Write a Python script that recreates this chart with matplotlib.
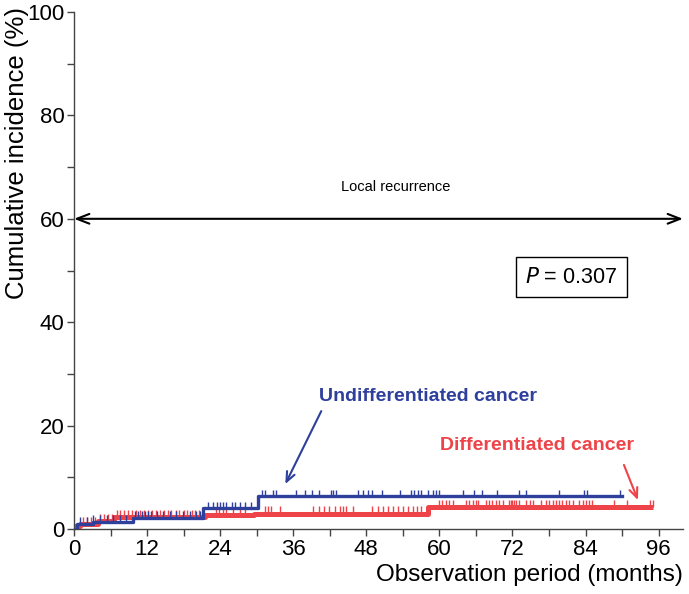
import matplotlib
matplotlib.use("Agg")
import matplotlib.pyplot as plt
from matplotlib.ticker import MultipleLocator

plt.rcParams["font.family"] = ["Liberation Sans", "DejaVu Sans"]

BLUE = "#2e3f9c"
RED = "#ee4449"

# step curves: time where the step starts (months) and level (%)
blue_times = [0, 0.5, 3.2, 9.7, 21.2, 30.2]
blue_levels = [0, 1.0, 1.4, 2.1, 4.0, 6.3]
blue_end = 90.0

red_times = [0, 1.0, 4.0, 6.5, 21.5, 29.5, 58.2]
red_levels = [0.5, 1.0, 1.5, 2.3, 2.8, 3.0, 4.2]
red_end = 95.0

# censored observations (months)
blue_censor = [1.0, 2.1, 3.2, 4.3, 5.4, 6.4, 7.5, 8.6,
               10.0, 10.5, 11.1, 11.6, 12.2, 12.7, 13.6, 14.6, 15.7, 16.8, 17.9, 19.0, 20.1, 20.7,
               22.0, 22.8, 23.4, 23.9, 24.5, 25.0, 25.9, 26.4, 27.2, 28.0, 29.1,
               30.8, 31.3, 32.7, 33.2, 36.5, 37.9, 39.0, 40.3, 42.2, 42.5, 43.0,
               46.6, 47.4, 48.2, 49.0, 50.5, 53.5, 55.4, 55.9, 56.5, 57.0, 58.2,
               58.9, 59.4, 59.9, 63.8, 65.7, 67.0, 69.5, 73.1, 74.2, 79.6, 83.7, 84.3, 89.7]
red_censor = [1.5, 2.2, 2.8, 3.5, 4.3, 5.0, 5.6, 6.3, 7.0, 7.6, 8.2, 8.9, 9.5, 10.2, 10.8,
              11.5, 12.1, 12.8, 13.4, 14.1, 14.7, 15.4, 16.0, 16.7, 17.3, 18.0, 18.6, 19.3,
              19.9, 20.6, 23.3, 23.8, 24.4, 24.9, 26.1, 27.2, 28.0, 31.3, 31.8, 32.4, 33.8,
              39.2, 40.3, 41.1, 41.9, 42.8, 43.6, 44.1, 44.7, 45.8, 49.0, 49.9, 50.7, 51.5,
              52.3, 53.2, 54.0, 54.8, 55.6, 56.4, 57.0,
              60.0, 60.5, 61.1, 61.6, 62.2, 64.4, 64.9, 65.5, 66.0, 66.3, 67.7, 68.2, 68.7,
              69.3, 69.8, 70.4, 71.5, 71.8, 72.0, 72.3, 72.6, 73.1, 74.2, 74.8, 75.3, 76.7,
              77.5, 78.0, 78.6, 79.1, 79.7, 80.2, 80.8, 81.3, 81.9, 83.0, 83.5, 84.0, 84.6,
              85.1, 88.6, 90.8, 94.6]

x_ticks = [0, 12, 24, 36, 48, 60, 72, 84, 96]
y_ticks = [0, 20, 40, 60, 80, 100]


def level_at(times, levels, t):
    lev = levels[0]
    for tt, lv in zip(times, levels):
        if t >= tt:
            lev = lv
    return lev


fig = plt.figure(figsize=(6.89, 5.94), dpi=100)
ax = fig.add_axes([0.1074, 0.1094, 0.8839, 0.8704])

# red (differentiated) curve first, blue drawn on top
ax.step(red_times + [red_end], red_levels + [red_levels[-1]], where="post",
        color=RED, lw=3.6, solid_capstyle="butt", zorder=2)
for t in red_censor:
    lv = level_at(red_times, red_levels, t)
    ax.vlines(t, lv, lv + 1.4, color=RED, lw=1.0, zorder=2)
ax.vlines(red_end, red_levels[-1], red_levels[-1] + 1.4, color=RED, lw=1.0, zorder=2)

ax.step(blue_times + [blue_end], blue_levels + [blue_levels[-1]], where="post",
        color=BLUE, lw=2.4, zorder=3)
for t in blue_censor:
    lv = level_at(blue_times, blue_levels, t)
    ax.vlines(t, lv, lv + 1.3, color=BLUE, lw=1.0, zorder=3)

ax.set_xlim(0, 100)
ax.set_ylim(0, 100)
ax.set_xticks(x_ticks)
ax.set_yticks(y_ticks)
ax.xaxis.set_minor_locator(MultipleLocator(6))
ax.yaxis.set_minor_locator(MultipleLocator(10))
ax.tick_params(which="both", direction="out", length=5, width=1, color="#444444",
               labelsize=16, pad=2)
for side in ["top", "right"]:
    ax.spines[side].set_visible(False)
for side in ["left", "bottom"]:
    ax.spines[side].set_color("#444444")
    ax.spines[side].set_linewidth(1.0)

ax.set_xlabel("Observation period (months)", fontsize=17.5, loc="right", labelpad=3)
ax.set_ylabel("Cumulative incidence (%)", fontsize=18.5, labelpad=0)
ax.yaxis.set_label_coords(-0.094, 0.728, transform=ax.transAxes)
ax.yaxis.label.set_va("center")

# double headed arrow and title
ax.annotate("", xy=(0, 60), xytext=(100, 60),
            arrowprops=dict(arrowstyle="<->,head_width=0.35,head_length=0.9",
                            color="black", lw=1.5, shrinkA=0, shrinkB=0),
            annotation_clip=False)
ax.text(52.9, 66.2, "Local recurrence", fontsize=10.5, ha="center", va="center")

ax.text(81.7, 48.7, r"$\it{P}$ = 0.307", fontsize=15.5, ha="center", va="center",
        bbox=dict(boxstyle="square,pad=0.45", fc="white", ec="black", lw=1.0))

ax.text(58.2, 25.7, "Undifferentiated cancer", fontsize=14, fontweight="bold",
        color=BLUE, ha="center", va="center")
ax.annotate("", xy=(34.7, 8.7), xytext=(40.6, 22.8),
            arrowprops=dict(arrowstyle="->,head_width=0.3,head_length=0.7",
                            color=BLUE, lw=1.5, shrinkA=0, shrinkB=0))

ax.text(76.0, 16.2, "Differentiated cancer", fontsize=14, fontweight="bold",
        color=RED, ha="center", va="center")
ax.annotate("", xy=(92.6, 5.6), xytext=(90.3, 12.4),
            arrowprops=dict(arrowstyle="->,head_width=0.3,head_length=0.7",
                            color=RED, lw=1.5, shrinkA=0, shrinkB=0))

fig.savefig("out.png", dpi=100)
plt.close("all")
